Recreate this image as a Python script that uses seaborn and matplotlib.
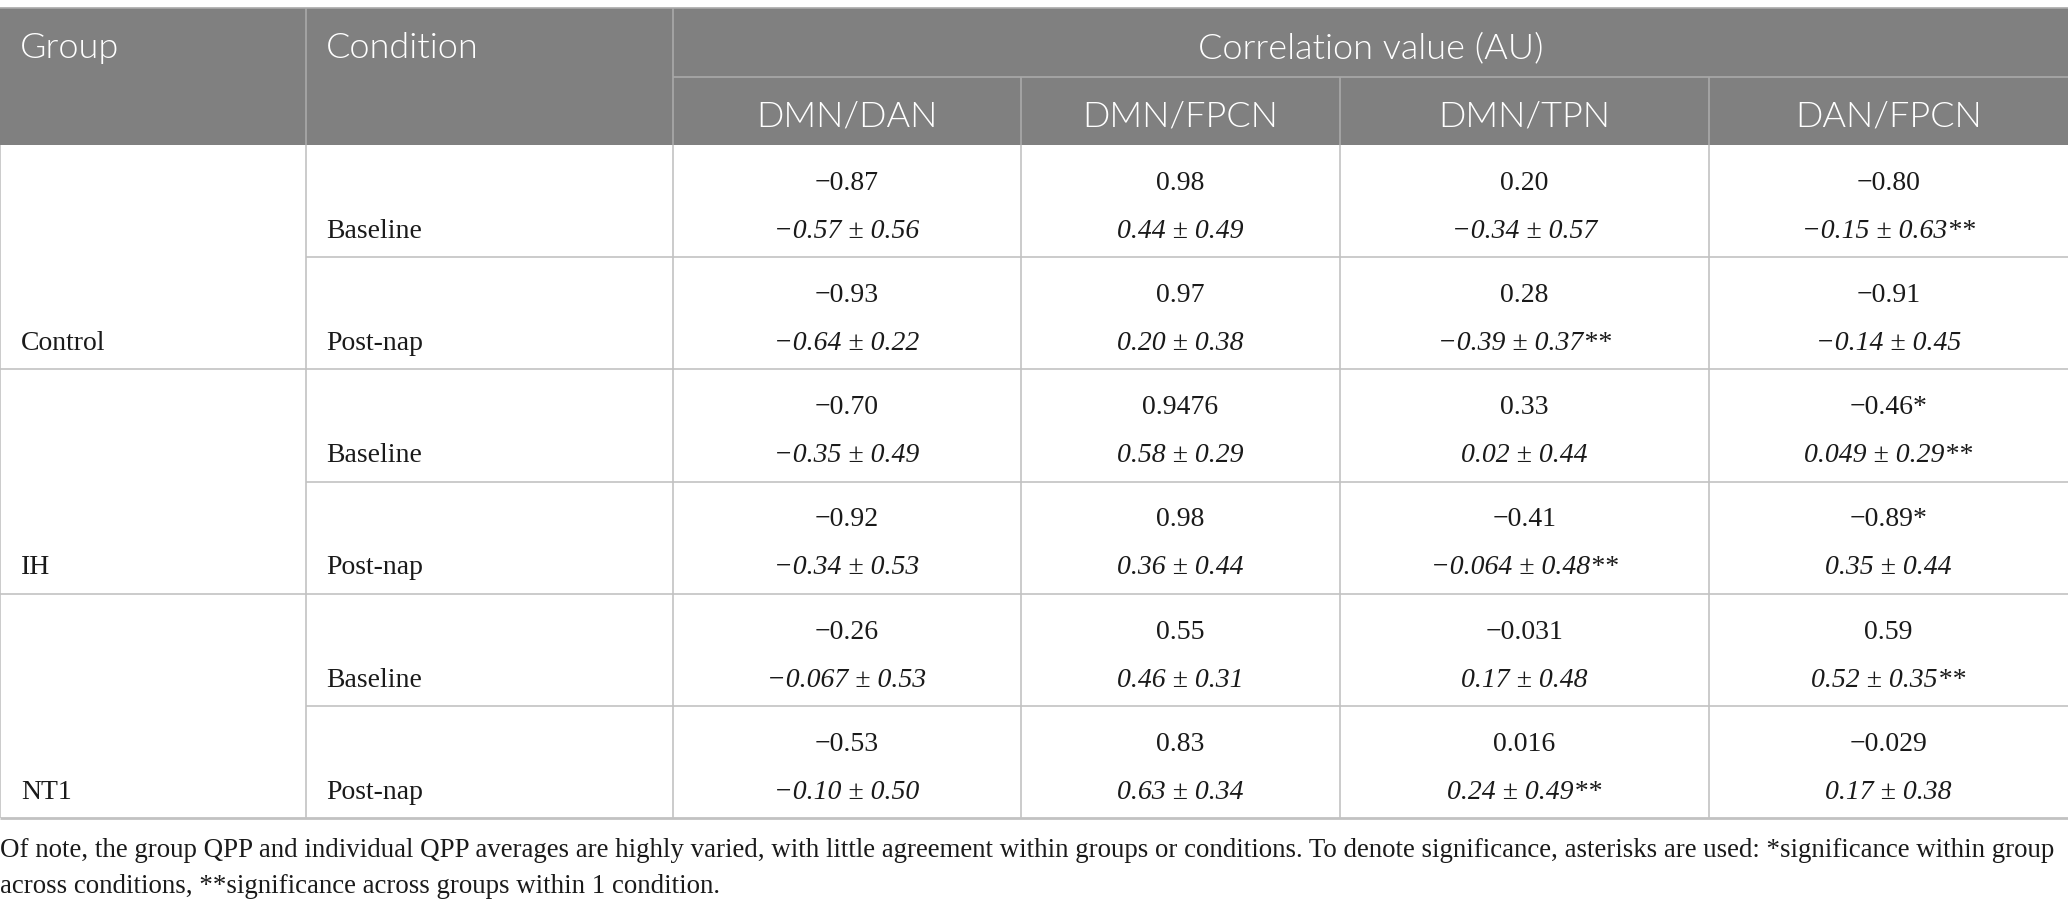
import matplotlib.pyplot as plt
from matplotlib.patches import Rectangle
import seaborn as sns

# %% table content
groups = ["Control", "IH", "NT1"]
conditions = ["Baseline", "Post-nap"]
pairs = ["DMN/DAN", "DMN/FPCN", "DMN/TPN", "DAN/FPCN"]

# group QPP correlation, one row per group x condition
group_qpp = [
    ["−0.87", "0.98", "0.20", "−0.80"],
    ["−0.93", "0.97", "0.28", "−0.91"],
    ["−0.70", "0.9476", "0.33", "−0.46*"],
    ["−0.92", "0.98", "−0.41", "−0.89*"],
    ["−0.26", "0.55", "−0.031", "0.59"],
    ["−0.53", "0.83", "0.016", "−0.029"],
]

# individual QPP mean and sd, plus significance marks
ind_mean = [
    ["−0.57", "0.44", "−0.34", "−0.15"],
    ["−0.64", "0.20", "−0.39", "−0.14"],
    ["−0.35", "0.58", "0.02", "0.049"],
    ["−0.34", "0.36", "−0.064", "0.35"],
    ["−0.067", "0.46", "0.17", "0.52"],
    ["−0.10", "0.63", "0.24", "0.17"],
]
ind_sd = [
    ["0.56", "0.49", "0.57", "0.63"],
    ["0.22", "0.38", "0.37", "0.45"],
    ["0.49", "0.29", "0.44", "0.29"],
    ["0.53", "0.44", "0.48", "0.44"],
    ["0.53", "0.31", "0.48", "0.35"],
    ["0.50", "0.34", "0.49", "0.38"],
]
ind_stars = [
    ["", "", "", "**"],
    ["", "", "**", ""],
    ["", "", "", "**"],
    ["", "", "**", ""],
    ["", "", "", "**"],
    ["", "", "**", ""],
]

caption_lines = [
    "Of note, the group QPP and individual QPP averages are highly varied, with little agreement "
    "within groups or conditions. To denote significance, asterisks are used: *significance within group",
    "across conditions, **significance across groups within 1 condition.",
]

# %% layout (pixels)
W, H = 2068, 914
col_edges = [0, 306, 673, 1021, 1340, 1709, 2068]
head_top, head_mid, head_bot = 8, 77, 145
body_bot = 818
n_rows = len(groups) * len(conditions)
row_h = (body_bot - head_bot) / n_rows

HEAD_GRAY = "#808080"
HEAD_LINE = "#a9a9a9"
GRID = "#c2c2c2"
SANS = "Lato"
SERIF = "Liberation Serif"
BODY_FS = 20
HEAD_FS = 26

sns.set_theme(style="white")
plt.rcParams["font.family"] = [SERIF, "DejaVu Serif"]

fig = plt.figure(figsize=(W / 100, H / 100), dpi=100)
ax = fig.add_axes([0, 0, 1, 1])
ax.set_xlim(0, W)
ax.set_ylim(H, 0)
ax.axis("off")

# %% header block
ax.add_patch(Rectangle((0, head_top), W, head_bot - head_top, facecolor=HEAD_GRAY, lw=0))
ax.hlines(head_top, 0, W, color=HEAD_LINE, lw=1.2)
ax.hlines(head_mid, col_edges[2], W, color=HEAD_LINE, lw=1.2)
ax.vlines(col_edges[1:3], head_top, head_bot, color=HEAD_LINE, lw=1.2)
ax.vlines(col_edges[3:-1], head_mid, head_bot, color=HEAD_LINE, lw=1.2)

head_kw = dict(color="white", fontsize=HEAD_FS, family=SANS, fontweight=300, va="baseline")
ax.text(col_edges[0] + 20, 58, "Group", ha="left", **head_kw)
ax.text(col_edges[1] + 20, 58, "Condition", ha="left", **head_kw)
ax.text((col_edges[2] + W) / 2, 58, "Correlation value (AU)", ha="center", **head_kw)
for j, p in enumerate(pairs):
    xc = (col_edges[j + 2] + col_edges[j + 3]) / 2
    ax.text(xc, 126, p, ha="center", **head_kw)

# %% body grid
for i in range(1, n_rows):
    y = head_bot + i * row_h
    x0 = 0 if i % len(conditions) == 0 else col_edges[1]
    ax.hlines(y, x0, W, color=GRID, lw=1.2)
ax.hlines(body_bot, 0, W, color=GRID, lw=2.0)
ax.vlines(col_edges[:-1], head_bot, body_bot, color=GRID, lw=1.2)

# %% body text
body_kw = dict(fontsize=BODY_FS, color="#1a1a1a", va="baseline")
for gi, g in enumerate(groups):
    for ci, c in enumerate(conditions):
        r = gi * len(conditions) + ci
        top = head_bot + r * row_h
        ax.text(col_edges[1] + 20, top + 93, c, ha="left", **body_kw)
        if ci == len(conditions) - 1:
            ax.text(col_edges[0] + 21, top + 93, g, ha="left", **body_kw)
        for j in range(len(pairs)):
            xc = (col_edges[j + 2] + col_edges[j + 3]) / 2
            ax.text(xc, top + 45, group_qpp[r][j], ha="center", **body_kw)
            cell = f"{ind_mean[r][j]} ± {ind_sd[r][j]}{ind_stars[r][j]}"
            ax.text(xc, top + 93, cell, ha="center", style="italic", **body_kw)

# %% caption, sized so the first line fills the width
renderer = fig.canvas.get_renderer()
cap = [ax.text(0, 857 + k * 36, line, ha="left", va="baseline", fontsize=17, color="#1a1a1a")
       for k, line in enumerate(caption_lines)]
w0 = cap[0].get_window_extent(renderer).width
for t in cap:
    t.set_fontsize(17 * 2064 / w0)

fig.savefig("out.png", dpi=100, facecolor="white")
